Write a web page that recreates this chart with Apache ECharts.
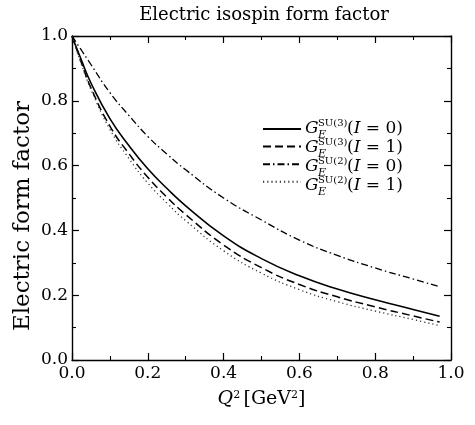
<!DOCTYPE html>
<html>
<head>
<meta charset="utf-8">
<title>Electric isospin form factor</title>
<script src="https://cdn.jsdelivr.net/npm/echarts@6/dist/echarts.min.js"></script>
<style>
  html, body { margin: 0; padding: 0; background: #fff; }
  #chart { width: 475px; height: 425px; }
</style>
</head>
<body>
<div id="chart"></div>
<script>
// Momentum transfer Q^2 in GeV^2
const q2 = [0, 0.025, 0.05, 0.1, 0.15, 0.2, 0.25, 0.3, 0.4, 0.5, 0.6, 0.7, 0.8, 0.9, 0.97];

// Electric isospin form factors
const su3I0 = [1.00, 0.925, 0.855, 0.745, 0.662, 0.590, 0.530, 0.476, 0.383, 0.313, 0.260, 0.219, 0.186, 0.156, 0.135];
const su3I1 = [1.00, 0.917, 0.840, 0.722, 0.637, 0.564, 0.503, 0.449, 0.355, 0.285, 0.233, 0.195, 0.164, 0.136, 0.117];
const su2I0 = [1.00, 0.956, 0.912, 0.825, 0.755, 0.690, 0.636, 0.587, 0.500, 0.432, 0.370, 0.323, 0.284, 0.250, 0.226];
const su2I1 = [1.00, 0.913, 0.835, 0.712, 0.622, 0.546, 0.485, 0.430, 0.337, 0.268, 0.217, 0.180, 0.151, 0.125, 0.106];

// Legend entries: superscript group and isospin value
const legendGroups = ['SU(3)', 'SU(3)', 'SU(2)', 'SU(2)'];
const legendIso = ['0', '1', '0', '1'];

const xTicks = [0, 0.2, 0.4, 0.6, 0.8, 1.0];
const yTicks = [0, 0.2, 0.4, 0.6, 0.8, 1.0];

const serif = 'DejaVu Serif';
const pairs = ys => q2.map((x, i) => [x, ys[i]]);

const chart = echarts.init(document.getElementById('chart'), null, { renderer: 'canvas' });

const tickLabel = v => v.toFixed(1);

const baseAxis = {
  type: 'value', min: 0, max: 1, interval: 0.2,
  axisLine: { show: true, onZero: false, lineStyle: { color: '#000', width: 1.4 } },
  axisTick: { show: true, inside: true, length: 7, lineStyle: { color: '#000', width: 1.2 } },
  minorTick: { show: true, splitNumber: 2, length: 4, lineStyle: { color: '#000', width: 1.1 } },
  splitLine: { show: false }
};

const seriesStyles = [
  { name: 'su3I0', data: su3I0, type: 'solid', width: 1.6, color: '#000' },
  { name: 'su3I1', data: su3I1, type: [8, 4], width: 1.5, color: '#000' },
  { name: 'su2I0', data: su2I0, type: [7, 3, 1.5, 3], width: 1.3, color: '#000' },
  { name: 'su2I1', data: su2I1, type: [1.2, 3], width: 1.3, color: '#333' }
];

// Legend text: G_E^{group}(I = n), drawn as stacked sub/superscripts
const rowY = [129, 148, 167, 186];
const mid = (txt, font, x, y) => ({
  type: 'text', x: x, y: y,
  style: { text: txt, font: font, fill: '#000', verticalAlign: 'middle', align: 'left' }
});
const legendText = legendGroups.map((grp, i) => ({
  type: 'group',
  x: 305,
  y: rowY[i],
  children: [
    mid('G', 'italic 17px "' + serif + '"', 0, 0),
    mid(grp, '10px "' + serif + '"', 13, -6),
    mid('E', 'italic 11px "' + serif + '"', 13, 6),
    {
      type: 'text', x: 42, y: 0,
      style: {
        text: '{n|(}{i|I}{n| = ' + legendIso[i] + ')}',
        verticalAlign: 'middle', align: 'left',
        rich: {
          n: { font: '17px "' + serif + '"', fill: '#000' },
          i: { font: 'italic 17px "' + serif + '"', fill: '#000' }
        }
      }
    }
  ]
}));

chart.setOption({
  animation: false,
  backgroundColor: '#fff',
  title: {
    text: 'Electric isospin form factor',
    left: 259, top: 1, textAlign: 'center',
    textStyle: { fontFamily: serif, fontWeight: 'normal', fontSize: 18, color: '#000' }
  },
  grid: { left: 72, right: 24, top: 36, bottom: 65, containLabel: false, outerBoundsMode: 'none' },
  legend: {
    orient: 'vertical', left: 262, top: 122, padding: 0,
    itemWidth: 38, itemHeight: 14, itemGap: 5,
    formatter: () => '',
    textStyle: { fontSize: 8 },
    itemStyle: { opacity: 0, borderWidth: 0 },
    selectedMode: false,
    data: seriesStyles.map(s => s.name)
  },
  xAxis: [
    Object.assign({}, baseAxis, {
      position: 'bottom',
      name: '{q|Q}{s|2} {n|[GeV}{s|2}{n|]}',
      nameLocation: 'middle', nameGap: 30,
      nameTextStyle: {
        rich: {
          q: { fontFamily: serif, fontStyle: 'italic', fontSize: 19, color: '#000', verticalAlign: 'bottom' },
          n: { fontFamily: serif, fontSize: 19, color: '#000', verticalAlign: 'bottom' },
          s: { fontFamily: serif, fontSize: 11, color: '#000', verticalAlign: 'top' }
        }
      },
      axisLabel: {
        color: '#000', fontFamily: serif, fontSize: 17, margin: 5,
        formatter: tickLabel, customValues: xTicks
      }
    }),
    Object.assign({}, baseAxis, { position: 'top', axisLabel: { show: false } })
  ],
  yAxis: [
    Object.assign({}, baseAxis, {
      position: 'left',
      name: 'Electric form factor',
      nameLocation: 'middle', nameGap: 37,
      nameMoveOverlap: false,
      nameTextStyle: { fontFamily: serif, fontSize: 23, color: '#000', padding: [0, 36, 0, 0] },
      axisLabel: {
        color: '#000', fontFamily: serif, fontSize: 17, margin: 4,
        formatter: tickLabel, customValues: yTicks
      }
    }),
    Object.assign({}, baseAxis, { position: 'right', axisLabel: { show: false } })
  ],
  graphic: legendText,
  series: seriesStyles.map(s => ({
    name: s.name,
    type: 'line',
    data: pairs(s.data),
    smooth: 0.5,
    symbol: 'none',
    showSymbol: false,
    xAxisIndex: 0, yAxisIndex: 0,
    lineStyle: { color: s.color, width: s.width, type: s.type },
    itemStyle: { color: s.color }
  }))
});
</script>
</body>
</html>
